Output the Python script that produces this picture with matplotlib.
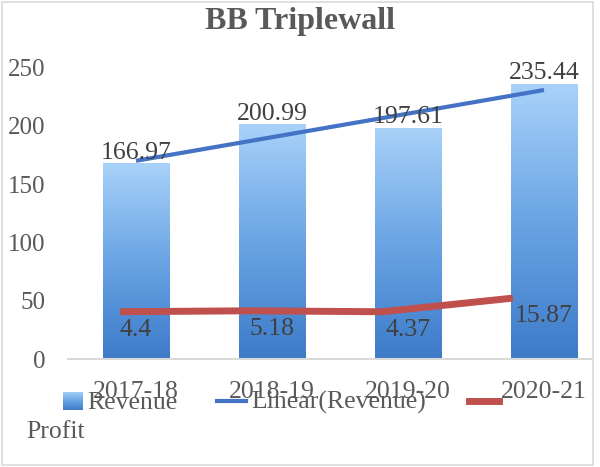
import numpy as np
import matplotlib
matplotlib.use("Agg")
import matplotlib.pyplot as plt
from matplotlib.patches import Rectangle
from matplotlib.lines import Line2D
from matplotlib.transforms import blended_transform_factory
from matplotlib.colors import LinearSegmentedColormap

# data
years = ["2017-18", "2018-19", "2019-20", "2020-21"]
revenue = [166.97, 200.99, 197.61, 235.44]
profit = [4.4, 5.18, 4.37, 15.87]
yticks = [0, 50, 100, 150, 200, 250]

W, H = 600, 467
plt.rcParams['font.family'] = ['Liberation Serif', 'DejaVu Serif']
txt_col = '#595959'
val_col = '#404040'

fig = plt.figure(figsize=(W / 100, H / 100), dpi=100)

def px(x, y):
    # pixel position (from top left) -> figure fraction
    return x / W, 1 - y / H

# plot area in pixels: x 68..612 (clipped by chart border), y 67..359
ax = fig.add_axes([68 / W, 1 - 359.3 / H, 544 / W, 292 / H])
ax.set_facecolor('none')

grad = LinearSegmentedColormap.from_list('bars', ['#3d7bc9', '#6aa4e4', '#a8d2f9'])
gimg = np.linspace(0, 1, 256).reshape(-1, 1)
xs = np.arange(len(years))
bw = 0.49
for x, v in zip(xs, revenue):
    ax.imshow(gimg, cmap=grad, origin='lower', aspect='auto',
              extent=(x - bw / 2, x + bw / 2, 0, v), zorder=1)
    ax.annotate(f"{v:.2f}", (x, v), xytext=(0, 3.6), textcoords='offset points',
                ha='center', va='baseline', fontsize=18.5, color=val_col, zorder=5)

# linear trendline of revenue
k, b = np.polyfit(xs, revenue, 1)
ax.plot(xs[[0, -1]], k * xs[[0, -1]] + b, color='#4472c4', lw=3,
        solid_capstyle='butt', zorder=3)

ax.set_xlim(-0.5, 3.5)
ax.set_ylim(0, 250)
ax.set_yticks(yticks)
ax.set_xticks(xs)
ax.set_xticklabels([])
ax.tick_params(axis='y', length=0, pad=16, labelsize=18, labelcolor=txt_col)
ax.tick_params(axis='x', length=0)
for s in ['top', 'right', 'left']:
    ax.spines[s].set_visible(False)
ax.spines['bottom'].set_color('#d9d9d9')
ax.spines['bottom'].set_linewidth(1.5)

# profit on its own (secondary) scale, as in the source chart
ax2 = fig.add_axes(ax.get_position(), frameon=False)
ax2.plot(xs, profit, color='#c0504d', lw=5, solid_capstyle='butt', zorder=4)
ax2.set_xlim(-0.397, 3.756)
ax2.set_ylim(-35.7, 210.4)
ax2.set_xticks([])
ax2.set_yticks([])
tr = blended_transform_factory(ax.transData, ax2.transData)
for x, p in zip(xs, profit):
    ax2.annotate(f"{p:g}", (x, p), xycoords=tr, xytext=(0, -17.5),
                 textcoords='offset points', ha='center', va='baseline',
                 fontsize=18.5, color=val_col, zorder=5)

# title
fig.text(*px(300, 29.5), "BB Triplewall", ha='center', va='baseline',
         fontsize=23, fontweight='bold', color=txt_col)

# category labels (they overlap the legend in the source)
for x, lab in zip(xs, years):
    xd = ax.transData.transform((x, 0))[0]
    fig.text(xd / W, 1 - 398 / H, lab, ha='center', va='baseline',
             fontsize=18.5, color=txt_col)

# legend, laid out by hand like the wrapped Excel legend
lax = fig.add_axes([62.7 / W, 1 - 410 / H, 19 / W, 18.3 / H])
lax.imshow(gimg, cmap=grad, origin='lower', aspect='auto')
lax.axis('off')
fig.text(*px(87, 409), "Revenue", ha='left', va='baseline', fontsize=18.5, color=txt_col)
fig.add_artist(Line2D([217 / W, 246 / W], [1 - 400.7 / H] * 2, color='#4472c4', lw=3))
fig.text(*px(251.7, 409), "Linear(Revenue)", ha='left', va='baseline', fontsize=18.5, color=txt_col)
fig.add_artist(Line2D([469 / W, 499 / W], [1 - 400.7 / H] * 2, color='#c0504d', lw=5))
fig.text(*px(26, 438), "Profit", ha='left', va='baseline', fontsize=18.5, color=txt_col)

# chart border, right side clipped like the screenshot
fig.add_artist(Rectangle((593 / W, 0), 1, 1, transform=fig.transFigure,
                         facecolor='white', edgecolor='none', zorder=20))
fig.add_artist(Rectangle((2 / W, 2 / H), 591 / W, 463 / H, transform=fig.transFigure,
                         facecolor='none', edgecolor='#d9d9d9', lw=1.2, zorder=21))

fig.savefig("out.png", dpi=100)
